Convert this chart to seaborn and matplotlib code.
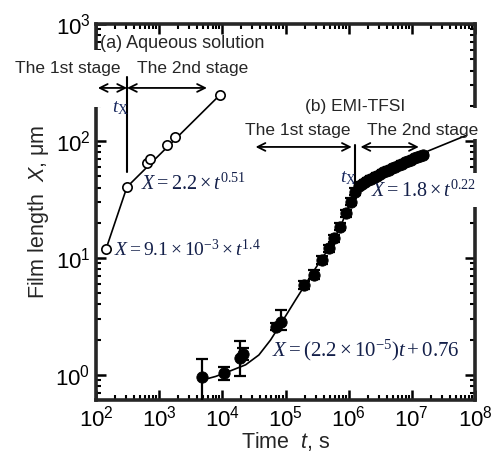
import seaborn as sns
import matplotlib.pyplot as plt
from matplotlib.patches import Rectangle
from matplotlib.ticker import LogLocator, NullFormatter

# (a) Aqueous solution: measured points
t_aq = [144, 309, 641, 715, 1330, 1780, 9120]
X_aq = [11.9, 40.4, 64.9, 70.2, 92.5, 108, 247]

# (a) fitted line
t_aq_fit = [144, 309, 9120]
X_aq_fit = [11.9, 40.4, 247]

# (b) EMI-TFSI: measured points with error bar ends
t_b = [4700, 10600, 19000, 21000, 69700, 83500, 195000, 282000, 380000,
       486000, 584000, 742000, 891000, 1.07e6, 1.25e6, 1.45e6,
       1.6e6, 1.8e6, 2.0e6, 2.25e6, 2.5e6, 2.8e6, 3.15e6, 3.5e6, 3.9e6,
       4.4e6, 4.9e6, 5.5e6, 6.2e6, 6.9e6, 7.7e6, 8.6e6, 9.6e6, 1.08e7,
       1.2e7, 1.35e7, 1.5e7]
X_b = [0.95, 1.03, 1.40, 1.52, 2.59, 2.86, 5.9, 7.2, 9.6,
       12.1, 14.7, 18.5, 24.1, 30.3, 36.9, 41,
       43, 44.5, 46, 47.5, 49, 50.5, 52, 54, 55.5,
       57, 58.5, 60, 62, 64, 66, 67.5, 69, 71,
       72.5, 74, 75.5]
X_b_lo = [0.50, 0.905, 0.98, 1.35, 2.40, 2.42, 5.4, 6.6, 8.9,
          11.2, 13.6, 17.2, 22.4, 28.2, 34.3, 38.5,
          41, 42.5, 44, 45, 46.5, 48, 49.5, 51.5, 53,
          54.5, 56, 57.5, 59, 61, 63, 64.5, 66, 68,
          69.5, 71, 72.5]
X_b_hi = [1.36, 1.16, 1.95, 1.70, 2.80, 3.59, 6.4, 7.9, 10.4,
          13.0, 15.8, 19.9, 25.9, 32.6, 39.5, 43.5,
          45, 46.5, 48, 50, 51.5, 53, 54.5, 56.5, 58,
          59.5, 61, 62.5, 65, 67, 69, 70.5, 72, 74,
          75.5, 77, 78.5]

# (b) fitted curve
t_b_fit = [5450, 7830, 12700, 23400, 37900, 58100, 88700, 144500, 220000,
           299000, 486000, 742000, 1.07e6, 1.25e6, 1.64e6, 2.66e6, 4.33e6,
           8.9e6, 1.65e7, 7.4e7]
X_b_fit = [0.92, 0.97, 1.07, 1.22, 1.48, 1.99, 2.86, 4.38, 6.27,
           8.17, 12.1, 18.5, 30.3, 36.9, 43.5, 49.5, 58.6,
           68.8, 80.4, 112]

sns.set_theme(style="ticks")
plt.rcParams["font.family"] = ["Liberation Sans", "DejaVu Sans"]
plt.rcParams["mathtext.fontset"] = "custom"
plt.rcParams["mathtext.rm"] = "Liberation Serif"
plt.rcParams["mathtext.it"] = "Liberation Serif:italic"
plt.rcParams["mathtext.sf"] = "Liberation Sans:italic"

W, H = 498, 459
fig, ax = plt.subplots(figsize=(W / 100, H / 100), dpi=100)
fig.subplots_adjust(left=96 / W, right=475 / W, bottom=1 - 400 / H, top=1 - 24 / H)
ax.set_xscale("log")
ax.set_yscale("log")

# (a) line + open circles
sns.lineplot(x=t_aq_fit, y=X_aq_fit, color="black", lw=1.2, sort=False,
             estimator=None, ax=ax, zorder=3)
sns.scatterplot(x=t_aq, y=X_aq, marker="o", s=45, facecolor="white",
                edgecolor="black", linewidth=1.2, ax=ax, zorder=4)

# (b) curve + filled circles with error bars
sns.lineplot(x=t_b_fit, y=X_b_fit, color="black", lw=1.2, sort=False,
             estimator=None, ax=ax, zorder=2.8)
yerr = [[x - lo for x, lo in zip(X_b, X_b_lo)],
        [hi - x for x, hi in zip(X_b, X_b_hi)]]
ax.errorbar(t_b, X_b, yerr=yerr, fmt="none", ecolor="black",
            elinewidth=1.6, capsize=4, capthick=1.6, zorder=3)
sns.scatterplot(x=t_b, y=X_b, marker="o", s=66, color="black",
                edgecolor="black", ax=ax, zorder=4)

ax.set_xlim(1e2, 1e8)
ax.set_ylim(0.61, 1e3)

# axes styling
for sp in ax.spines.values():
    sp.set_linewidth(2.6)
    sp.set_visible(True)
ax.tick_params(which="both", direction="in", top=True, right=True,
               labelsize=16, pad=4, colors="black")
ax.tick_params(which="major", length=7, width=1.8)
ax.tick_params(which="minor", length=3.5, width=1.5)
ax.xaxis.set_major_locator(LogLocator(base=10, numticks=10))
ax.xaxis.set_minor_locator(LogLocator(base=10, subs=range(2, 10), numticks=20))
ax.xaxis.set_minor_formatter(NullFormatter())
ax.yaxis.set_minor_locator(LogLocator(base=10, subs=range(2, 10), numticks=20))
ax.yaxis.set_minor_formatter(NullFormatter())
ax.set_xlabel(r"Time  $\mathsf{t}$, s", fontsize=15.5, labelpad=-1)
ax.set_ylabel(r"Film length  $\mathsf{X}$, μm", fontsize=15.5, labelpad=3)

# blank gaps in the frame behind the labels
def gap(x0, y0, x1, y1):
    ax.add_patch(Rectangle((x0 / W, 1 - y1 / H), (x1 - x0) / W, (y1 - y0) / H,
                           transform=fig.transFigure, facecolor="white",
                           edgecolor="none", clip_on=False, zorder=2.7))

gap(88, 50, 110, 107)
gap(462, 108, 486, 139)
gap(462, 173, 486, 207)

arrow = dict(arrowstyle="<->", color="black", lw=1.3, shrinkA=0, shrinkB=0,
             mutation_scale=14)
eq_color = "#14204a"

# (a) annotations
ax.text(100 / W, 1 - 43 / H, "(a) Aqueous solution", transform=fig.transFigure,
        fontsize=13, ha="left", va="center")
ax.text(15 / W, 1 - 69 / H, "The 1st stage", transform=fig.transFigure,
        fontsize=12.5, ha="left", va="center")
ax.text(193 / W, 1 - 69 / H, "The 2nd stage", transform=fig.transFigure,
        fontsize=12.5, ha="center", va="center")
ax.annotate("", xy=(107, 284), xytext=(310, 284), arrowprops=arrow)
ax.annotate("", xy=(310, 284), xytext=(5700, 284), arrowprops=arrow)
ax.plot([310, 310], [54, 352], color="black", lw=1.5, zorder=3)
ax.text(240, 191, r"$t_\mathrm{X}$", fontsize=14, ha="center", va="center",
        color="#1a2a60")
ax.text(515, 43.8, r"$X = 2.2\times t^{0.51}$", fontsize=14.5, ha="left",
        va="center", color=eq_color)
ax.text(193, 11.7, r"$X = 9.1\times 10^{-3}\times t^{1.4}$", fontsize=14,
        ha="left", va="center", color=eq_color)

# (b) annotations
ax.text(355 / W, 1 - 106 / H, "(b) EMI-TFSI", transform=fig.transFigure,
        fontsize=12.5, ha="center", va="center")
ax.text(298 / W, 1 - 130 / H, "The 1st stage", transform=fig.transFigure,
        fontsize=12.5, ha="center", va="center")
ax.text(423 / W, 1 - 130 / H, "The 2nd stage", transform=fig.transFigure,
        fontsize=12.5, ha="center", va="center")
ax.annotate("", xy=(33600, 88.9), xytext=(1.12e6, 88.9), arrowprops=arrow)
ax.annotate("", xy=(1.54e6, 88.9), xytext=(1.29e7, 88.9), arrowprops=arrow)
ax.plot([1.28e6, 1.28e6], [42, 92], color="black", lw=1.5, zorder=3)
ax.text(1.0e6, 48, r"$t_\mathrm{X}$", fontsize=14, ha="center", va="center",
        color="#1a2a60")
ax.text(2.24e6, 38.1, r"$X = 1.8\times t^{0.22}$", fontsize=14.5, ha="left",
        va="center", color=eq_color)
ax.text(6.1e4, 1.635, r"$X = (2.2\times 10^{-5})t + 0.76$", fontsize=15,
        ha="left", va="center", color=eq_color)

fig.savefig("out.png", dpi=100)
